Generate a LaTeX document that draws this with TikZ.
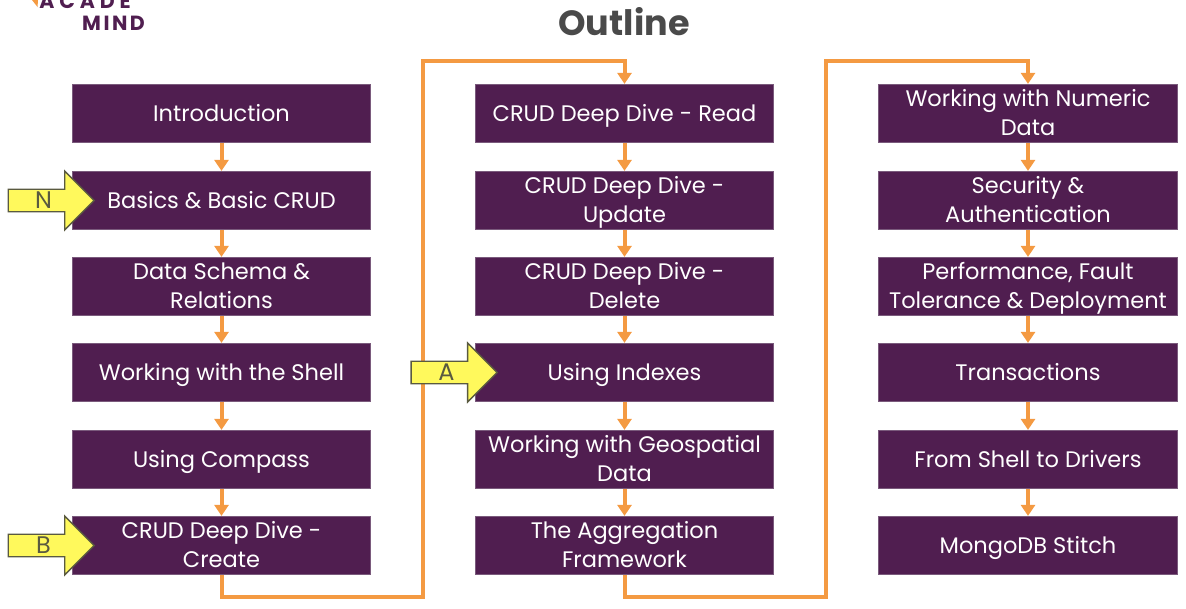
\documentclass[tikz,border=0pt]{standalone}
\usepackage{fontspec}
\setmainfont{Poppins}
\usetikzlibrary{arrows.meta,shapes.arrows}
\definecolor{plum}{HTML}{501E50}
\definecolor{plumedge}{HTML}{7A5A7C}
\definecolor{orangeline}{HTML}{F49A42}
\definecolor{yel}{HTML}{FFF95C}
\definecolor{titlegray}{HTML}{4A4A4A}
\definecolor{markerline}{HTML}{5A5A40}
\newcommand{\nl}{\\\strut}
\newcommand{\firstline}{\rule[-8.7pt]{0pt}{33pt}}
\tikzset{
  x=1pt,y=-1pt,
  topic/.style={draw=plumedge,line width=.7pt,fill=plum,text=white,minimum width=298.5pt,minimum height=58.5pt,inner xsep=0pt,inner ysep=-3pt,align=center,font=\fontsize{22.5}{29}\selectfont},
  flow/.style={draw=orangeline,line width=4pt,-{Triangle[length=11pt,width=14pt]}},
  longflow/.style={draw=orangeline,line width=4pt,-{Triangle[length=11pt,width=14pt]}},
  marker/.style={single arrow,draw=markerline,line width=1.3pt,fill=yel,text=markerline,minimum height=86pt,minimum width=59pt,single arrow head extend=14.5pt,single arrow tip angle=90,inner sep=0pt,font=\fontsize{24}{26}\selectfont},
  logotext/.style={text=plum,anchor=base east,inner sep=0pt,font=\fontsize{20.5}{22}\bfseries\selectfont}
}
\begin{document}
\begin{tikzpicture}
\useasboundingbox (0,0) rectangle (1186,608);
\clip (0,0) rectangle (1186,608);
\node[text=titlegray,font=\fontsize{35}{38}\bfseries\selectfont] (title) at (624,22) {Outline};
\fill[orangeline] (32,0) -- (38,0) -- (37.5,7) -- cycle;
\node[logotext] (logoa) at (131,8) {\addfontfeatures{LetterSpace=24}ACADE};
\node[logotext] (logob) at (145,30) {\addfontfeatures{LetterSpace=12}MIND};
\foreach \n/\c/\y/\t in {
 a1/221.5/113.5/Introduction,
 a2/221.5/200.5/Basics \& Basic CRUD,
 a3/221.5/286.5/{Data Schema \&\nl Relations},
 a4/221.5/372.5/Working with the Shell,
 a5/221.5/459.5/Using Compass,
 a6/221.5/545.5/{CRUD Deep Dive -\nl Create},
 b1/624.5/113.5/CRUD Deep Dive - Read,
 b2/624.5/200.5/{CRUD Deep Dive -\nl Update},
 b3/624.5/286.5/{CRUD Deep Dive -\nl Delete},
 b4/624.5/372.5/Using Indexes,
 b5/624.5/459.5/{Working with Geospatial\nl Data},
 b6/624.5/545.5/{The Aggregation\nl Framework},
 c1/1028/113.5/{Working with Numeric\nl Data},
 c2/1028/200.5/{Security \&\nl Authentication},
 c3/1028/286.5/{Performance, Fault\nl Tolerance \& Deployment},
 c4/1028/372.5/Transactions,
 c5/1028/459.5/From Shell to Drivers,
 c6/1028/545.5/MongoDB Stitch}{
  \node[topic] (\n) at (\c,\y) {\firstline\t};
}
\foreach \col in {a,b,c}{
  \foreach \i/\j in {1/2,2/3,3/4,4/5,5/6}{
    \draw[flow] (\col\i.south) -- (\col\j.north);
  }
}
\coordinate (r1) at (423,597);
\coordinate (t1) at (423,61);
\coordinate (r2) at (826,597);
\coordinate (t2) at (826,61);
\draw[longflow] (a6.south) |- (r1) -- (t1) -| (b1.north);
\draw[longflow] (b6.south) |- (r2) -- (t2) -| (c1.north);
\node[marker] (n) at (45.5,200.5) {\hspace*{-4pt}N};
\node[marker] (b) at (45.5,545.5) {\hspace*{-4pt}B};
\node[marker] (a) at (448.5,372.5) {\hspace*{-4pt}A};
\end{tikzpicture}
\end{document}
